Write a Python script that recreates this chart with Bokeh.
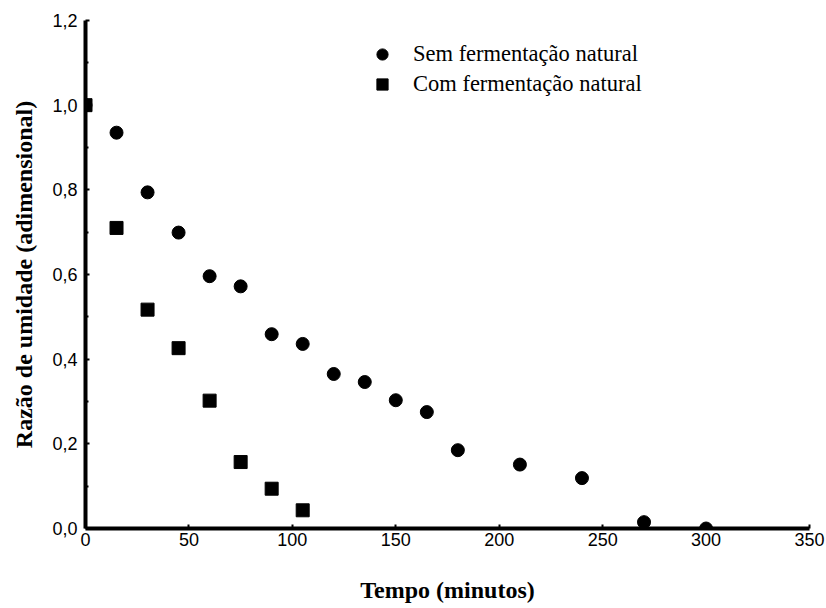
from bokeh.plotting import figure
from bokeh.models import (Range1d, FixedTicker, CustomJSTickFormatter, Legend, LegendItem)
from bokeh.embed import file_html
from bokeh.resources import INLINE

# Data
tempo_sem = [0, 15, 30, 45, 60, 75, 90, 105, 120, 135, 150, 165, 180, 210, 240, 270, 300]
razao_sem = [1.0, 0.935, 0.794, 0.699, 0.596, 0.572, 0.459, 0.436, 0.365, 0.346, 0.303,
             0.275, 0.185, 0.151, 0.119, 0.015, 0.0]
tempo_com = [0, 15, 30, 45, 60, 75, 90, 105]
razao_com = [1.0, 0.710, 0.517, 0.426, 0.302, 0.157, 0.094, 0.043]

x_ticks = [0, 50, 100, 150, 200, 250, 300, 350]
y_ticks = [0.0, 0.2, 0.4, 0.6, 0.8, 1.0, 1.2]
y_minor = [0.1, 0.3, 0.5, 0.7, 0.9, 1.1]

label_sem = "Sem fermentação natural"
label_com = "Com fermentação natural"
x_title = "Tempo (minutos)"
y_title = "Razão de umidade (adimensional)"

p = figure(width=826, height=608, output_backend="svg", toolbar_location=None,
           x_range=Range1d(0, 350), y_range=Range1d(0, 1.2),
           min_border_left=85, min_border_right=17, min_border_top=20, min_border_bottom=80)
p.outline_line_color = None
p.xgrid.visible = False
p.ygrid.visible = False
p.background_fill_color = "white"
p.border_fill_color = "white"

r_sem = p.scatter(tempo_sem, razao_sem, marker="circle", size=13, color="black")
r_com = p.scatter(tempo_com, razao_com, marker="square", size=13, color="black")

xa = p.xaxis[0]
xa.ticker = FixedTicker(ticks=x_ticks)
ya = p.yaxis[0]
ya.ticker = FixedTicker(ticks=y_ticks, minor_ticks=y_minor)
ya.formatter = CustomJSTickFormatter(code="return tick.toFixed(1).replace('.', ',');")

for ax in (xa, ya):
    ax.axis_line_width = 4
    ax.axis_line_color = "black"
    ax.major_tick_in = 4
    ax.major_tick_out = 0
    ax.major_tick_line_width = 2
    ax.minor_tick_in = 3
    ax.minor_tick_out = 0
    ax.minor_tick_line_width = 2
    ax.major_label_text_font = "Liberation Sans"
    ax.major_label_text_font_size = "18px"
    ax.major_label_text_color = "black"
    ax.axis_label_text_font = "Liberation Serif"
    ax.axis_label_text_font_style = "bold"
    ax.axis_label_text_font_size = "24px"
    ax.axis_label_text_color = "black"

xa.minor_tick_line_color = None
xa.major_label_standoff = 4
xa.axis_label = x_title
xa.axis_label_standoff = 28
ya.major_label_standoff = 8
ya.axis_label = y_title
ya.axis_label_standoff = 12

legend = Legend(items=[LegendItem(label=label_sem, renderers=[r_sem]),
                       LegendItem(label=label_com, renderers=[r_com])],
                location=(283, 430), orientation="vertical",
                glyph_width=28, glyph_height=28, spacing=2, padding=0, margin=0,
                label_standoff=17, label_text_font="Liberation Serif",
                label_text_font_size="22.5px", label_text_color="black",
                border_line_color=None, background_fill_alpha=0)
p.add_layout(legend)

open("out.html", "w").write(file_html(p, INLINE))
